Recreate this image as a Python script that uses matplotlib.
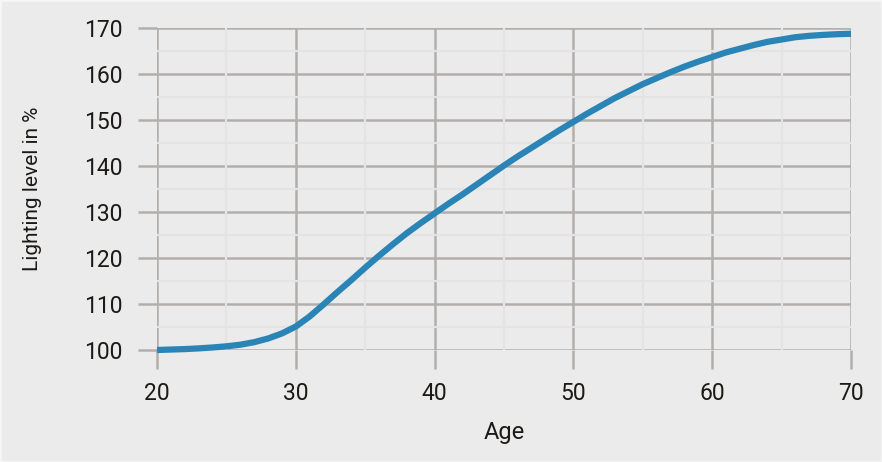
import numpy as np
import matplotlib.pyplot as plt
from matplotlib.patches import Rectangle

# values (one per year)
age = list(range(20, 71))
lighting = [100.0, 100.1, 100.2, 100.35, 100.55, 100.8, 101.15, 101.7, 102.5, 103.6,
            105.1, 107.3, 109.9, 112.6, 115.2, 117.9, 120.5, 123.0, 125.4, 127.6,
            129.7, 131.8, 133.8, 135.9, 138.0, 140.1, 142.1, 144.0, 145.9, 147.8,
            149.6, 151.4, 153.1, 154.8, 156.3, 157.8, 159.1, 160.4, 161.6, 162.7,
            163.7, 164.7, 165.5, 166.3, 167.0, 167.5, 168.0, 168.3, 168.5, 168.65,
            168.75]
x_ticks = [20, 30, 40, 50, 60, 70]
y_ticks = [100, 110, 120, 130, 140, 150, 160, 170]

BG = "#ebebeb"
GRID = "#b2aeab"
MINOR = "#e4e4e6"
TEXT = "#1c1a17"

plt.rcParams['font.family'] = ['Roboto', 'DejaVu Sans']

fig = plt.figure(figsize=(8.82, 4.62), dpi=100, facecolor=BG)
fig.patches.append(Rectangle((0, 0), 1, 1, transform=fig.transFigure,
                             fill=False, edgecolor="#f6f6f6", linewidth=2))
ax = fig.add_axes([157 / 882, 112 / 462, 694 / 882, 322 / 462])
ax.set_facecolor(BG)

# faint minor grid every 5
for v in np.arange(25, 70, 10):
    ax.axvline(v, color=MINOR, linewidth=1.6, zorder=1)
for v in np.arange(105, 170, 10):
    ax.axhline(v, color=MINOR, linewidth=1.6, zorder=1)

ax.grid(True, color=GRID, linewidth=1.8, zorder=2)
ax.set_axisbelow(True)

ax.plot(age, lighting, color="#2a84b6", linewidth=4.5,
        solid_capstyle="butt", solid_joinstyle="round", zorder=5, clip_on=False)

ax.set_xlim(20, 70)
ax.set_ylim(100, 170)
ax.set_xticks(x_ticks)
ax.set_yticks(y_ticks)
for s in ax.spines.values():
    s.set_visible(False)
ax.tick_params(axis='both', length=14, width=1.8, color=GRID,
               labelsize=16.5, labelcolor=TEXT)
ax.tick_params(axis='y', pad=11)
ax.tick_params(axis='x', pad=9)

ax.set_xlabel("Age", fontsize=17, color=TEXT)
ax.set_ylabel("Lighting level in %", fontsize=15, color=TEXT)
ax.xaxis.set_label_coords(0.5, -0.222)
ax.yaxis.set_label_coords(-0.166, 0.5)

fig.savefig("out.png", dpi=100, facecolor=BG)
